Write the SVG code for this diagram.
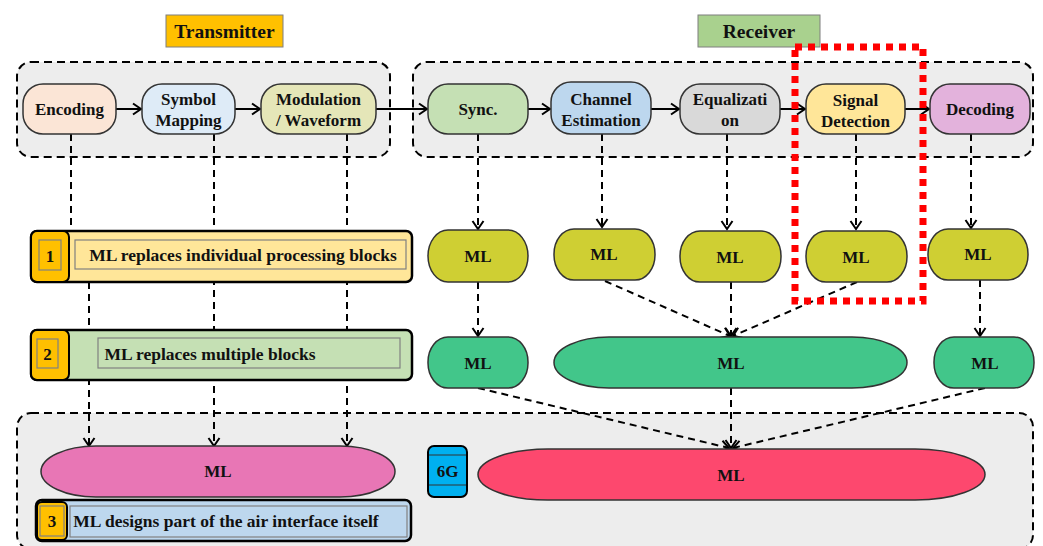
<svg xmlns="http://www.w3.org/2000/svg" width="1043" height="546" viewBox="0 0 1043 546">
<defs>
<marker id="ah" markerUnits="userSpaceOnUse" markerWidth="14" markerHeight="14" refX="11" refY="7" orient="auto">
<path d="M3,1.5 L11,7 L3,12.5" fill="none" stroke="#000" stroke-width="2"/>
</marker>
</defs>
<style>
text{font-family:"Liberation Serif","Times New Roman",serif;font-weight:bold;fill:#111;text-anchor:middle;dominant-baseline:central}
.grp{fill:#EDEDED;stroke:#000;stroke-width:2;stroke-dasharray:8 5}
.nd{stroke:#333;stroke-width:1.5}
.t16{font-size:17px}
.tb{font-size:17.5px}
.sol{stroke:#000;stroke-width:2;fill:none}
.dsh{stroke:#000;stroke-width:2;fill:none;stroke-dasharray:7 5}
.ban{stroke:#000;stroke-width:2.5}
.inner{fill:none;stroke:#808080;stroke-width:1.2}
.num{fill:#FFC000;stroke:#000;stroke-width:2}
</style>

<rect class="grp" x="17" y="62" width="373" height="95" rx="14"/>
<rect class="grp" x="413" y="62" width="620" height="95" rx="14"/>
<rect class="grp" x="17" y="413" width="1016" height="136" rx="14"/>

<g id="lbl-tx"><rect x="166" y="15" width="117" height="32" fill="#FFC000" stroke="#7F7F7F" stroke-width="1"/><text x="224.5" y="31" style="font-size:19.5px">Transmitter</text></g>
<g id="lbl-rx"><rect x="698" y="15" width="122" height="32" fill="#A9D18E" stroke="#7F7F7F" stroke-width="1"/><text x="759" y="31" style="font-size:19.5px">Receiver</text></g>

<g id="connectors">
<line class="sol" x1="116" y1="109" x2="141" y2="109" marker-end="url(#ah)"/>
<line class="sol" x1="235" y1="109" x2="260" y2="109" marker-end="url(#ah)"/>
<line class="sol" x1="376" y1="109" x2="427" y2="109" marker-end="url(#ah)"/>
<line class="sol" x1="528" y1="109" x2="550" y2="109" marker-end="url(#ah)"/>
<line class="sol" x1="651" y1="109" x2="679" y2="109" marker-end="url(#ah)"/>
<line class="sol" x1="780" y1="109" x2="805" y2="109" marker-end="url(#ah)"/>
<line class="sol" x1="905" y1="109" x2="929" y2="109" marker-end="url(#ah)"/>

<line class="dsh" x1="71" y1="134" x2="71" y2="231"/>
<line class="dsh" x1="89" y1="282" x2="89" y2="446" marker-end="url(#ah)"/>
<line class="dsh" x1="214" y1="134" x2="214" y2="446" marker-end="url(#ah)"/>
<line class="dsh" x1="347" y1="134" x2="347" y2="446" marker-end="url(#ah)"/>

<line class="dsh" x1="478" y1="134" x2="478" y2="229" marker-end="url(#ah)"/>
<line class="dsh" x1="602" y1="134" x2="602" y2="227" marker-end="url(#ah)"/>
<line class="dsh" x1="727" y1="134" x2="727" y2="229" marker-end="url(#ah)"/>
<line class="dsh" x1="856" y1="134" x2="856" y2="229" marker-end="url(#ah)"/>
<line class="dsh" x1="971" y1="134" x2="971" y2="228" marker-end="url(#ah)"/>

<line class="dsh" x1="478" y1="282" x2="478" y2="336" marker-end="url(#ah)"/>
<line class="dsh" x1="605" y1="281" x2="730" y2="336" marker-end="url(#ah)"/>
<line class="dsh" x1="731" y1="282" x2="731" y2="336" marker-end="url(#ah)"/>
<line class="dsh" x1="857" y1="282" x2="733" y2="336" marker-end="url(#ah)"/>
<line class="dsh" x1="980" y1="280" x2="980" y2="336" marker-end="url(#ah)"/>

<line class="dsh" x1="478" y1="388" x2="729" y2="448" marker-end="url(#ah)"/>
<line class="dsh" x1="731" y1="388" x2="731" y2="448" marker-end="url(#ah)"/>
<line class="dsh" x1="985" y1="388" x2="733" y2="448" marker-end="url(#ah)"/>
</g>

<g id="n-encoding"><rect class="nd" x="23" y="84" width="93" height="50" rx="20" fill="#FBE5D6"/><text class="t16" x="69.5" y="109">Encoding</text></g>
<g id="n-symbol"><rect class="nd" x="142" y="84" width="93" height="50" rx="20" fill="#DEEBF7"/><text class="t16" x="188.5" y="99">Symbol</text><text class="t16" x="188.5" y="120">Mapping</text></g>
<g id="n-mod"><rect class="nd" x="261" y="84" width="115" height="50" rx="20" fill="#E5E6B8"/><text class="t16" x="318.5" y="99">Modulation</text><text class="t16" x="318.5" y="120">/ Waveform</text></g>
<g id="n-sync"><rect class="nd" x="428" y="84" width="100" height="50" rx="20" fill="#C5E0B4"/><text class="t16" x="478" y="109">Sync.</text></g>
<g id="n-chest"><rect class="nd" x="551" y="82" width="100" height="52" rx="20" fill="#BDD7EE"/><text class="t16" x="601" y="99">Channel</text><text class="t16" x="601" y="120">Estimation</text></g>
<g id="n-eq"><rect class="nd" x="680" y="84" width="100" height="50" rx="20" fill="#D9D9D9"/><text class="t16" x="730" y="99">Equalizati</text><text class="t16" x="730" y="120">on</text></g>
<g id="n-sd"><rect class="nd" x="806" y="84" width="99" height="50" rx="20" fill="#FFE699"/><text class="t16" x="855.5" y="100">Signal</text><text class="t16" x="855.5" y="121">Detection</text></g>
<g id="n-dec"><rect class="nd" x="930" y="84" width="100" height="50" rx="20" fill="#E3B2DC"/><text class="t16" x="980" y="109">Decoding</text></g>

<g id="ml1-sync"><rect class="nd" x="428" y="230" width="100" height="52" rx="20" ry="26" fill="#CFCF33"/><text class="t16" x="478" y="256">ML</text></g>
<g id="ml1-chest"><rect class="nd" x="554" y="229" width="101" height="51" rx="20" ry="25" fill="#CFCF33"/><text class="t16" x="604" y="254">ML</text></g>
<g id="ml1-eq"><rect class="nd" x="680" y="231" width="101" height="51" rx="20" ry="25" fill="#CFCF33"/><text class="t16" x="730" y="257">ML</text></g>
<g id="ml1-sd"><rect class="nd" x="806" y="231" width="101" height="51" rx="20" ry="25" fill="#CFCF33"/><text class="t16" x="856" y="257">ML</text></g>
<g id="ml1-dec"><rect class="nd" x="928" y="229" width="100" height="51" rx="20" ry="25" fill="#CFCF33"/><text class="t16" x="978" y="254">ML</text></g>

<g id="ml2-sync"><rect class="nd" x="428" y="337" width="100" height="51" rx="20" ry="25" fill="#42C68A"/><text class="t16" x="478" y="363">ML</text></g>
<g id="ml2-mid"><rect class="nd" x="554" y="337" width="353" height="51" rx="55" ry="25.5" fill="#42C68A"/><text class="t16" x="731" y="363">ML</text></g>
<g id="ml2-dec"><rect class="nd" x="934" y="337" width="100" height="51" rx="20" ry="25" fill="#42C68A"/><text class="t16" x="985" y="363">ML</text></g>

<g id="ml3-tx"><rect class="nd" x="41" y="446" width="354" height="51" rx="55" ry="25.5" fill="#E876B5"/><text class="t16" x="218" y="471">ML</text></g>
<g id="ml3-rx"><rect class="nd" x="478" y="449" width="507" height="51" rx="70" ry="25.5" fill="#FD486E"/><text class="t16" x="731" y="475">ML</text></g>

<g id="badge-6g"><rect x="428" y="446" width="39" height="51" rx="6" fill="#00B0F0" stroke="#000" stroke-width="2"/><line x1="429" y1="455" x2="466" y2="455" stroke="#333" stroke-width="1"/><line x1="429" y1="485" x2="466" y2="485" stroke="#333" stroke-width="1"/><text class="t16" x="447.5" y="471">6G</text></g>

<g id="banner-1">
<rect class="ban" x="31" y="231" width="381" height="51" rx="6" fill="#FFE699"/>
<rect class="num" x="31" y="231" width="38" height="51" rx="6"/>
<rect class="inner" x="39" y="240" width="22" height="30" stroke="#C99700"/>
<text class="t16" x="50" y="256">1</text>
<rect class="inner" x="75" y="240" width="331" height="29"/>
<text class="tb" x="243" y="255">ML replaces individual processing blocks</text>
</g>
<g id="banner-2">
<rect class="ban" x="31" y="330" width="381" height="50" rx="6" fill="#C5E0B4"/>
<rect class="num" x="31" y="330" width="38" height="50" rx="6"/>
<rect class="inner" x="37" y="339" width="21" height="29" stroke="#444"/>
<text class="t16" x="47.5" y="354">2</text>
<rect class="inner" x="98" y="338" width="302" height="30"/>
<text class="tb" x="210" y="354">ML replaces multiple blocks</text>
</g>
<g id="banner-3">
<rect class="ban" x="36" y="500" width="375" height="41" rx="6" fill="#BDD7EE"/>
<rect class="num" x="37" y="502" width="30" height="38" rx="5"/>
<rect class="inner" x="40" y="506" width="24" height="30" stroke="#C99700"/>
<text class="t16" x="52" y="521">3</text>
<rect class="inner" x="70" y="506" width="337" height="31"/>
<text class="tb" x="226" y="521">ML designs part of the air interface itself</text>
</g>

<rect x="795" y="47" width="128" height="254" fill="none" stroke="#FF0000" stroke-width="7" stroke-dasharray="7 6"/>
</svg>
